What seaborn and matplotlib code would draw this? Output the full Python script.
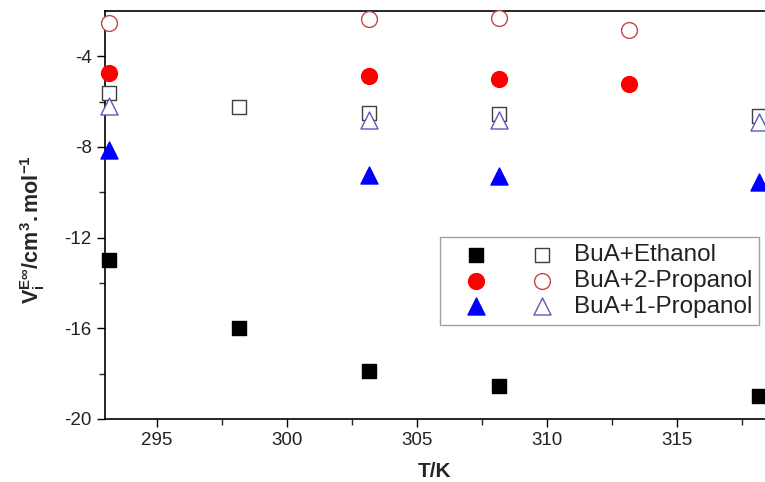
import matplotlib
matplotlib.use("Agg")
import matplotlib.pyplot as plt
import seaborn as sns
import pandas as pd
from matplotlib.legend_handler import HandlerTuple

# Data
T_eth = [293.15, 298.15, 303.15, 308.15, 318.15]
eth_filled = [-13.0, -16.0, -17.9, -18.55, -19.0]
eth_open = [-5.6, -6.25, -6.5, -6.55, -6.65]

T_2p = [293.15, 303.15, 308.15, 313.15]
p2_filled = [-4.75, -4.85, -5.0, -5.2]
p2_open = [-2.55, -2.35, -2.3, -2.85]

T_1p = [293.15, 303.15, 308.15, 318.15]
p1_filled = [-8.15, -9.25, -9.3, -9.55]
p1_open = [-6.2, -6.8, -6.8, -6.9]

labels = ["BuA+Ethanol", "BuA+2-Propanol", "BuA+1-Propanol"]

sns.set_theme(style="ticks")
plt.rcParams['font.family'] = ['Liberation Sans', 'DejaVu Sans']
plt.rcParams['mathtext.fontset'] = 'custom'
plt.rcParams['mathtext.rm'] = 'Liberation Sans'
plt.rcParams['mathtext.bf'] = 'Liberation Sans:bold'
plt.rcParams['mathtext.it'] = 'Liberation Sans:italic'
plt.rcParams['axes.unicode_minus'] = False

fig = plt.figure(figsize=(7.65, 4.82), dpi=100)
ax = fig.add_axes([105/765, 1 - 419/482, 1 - 105/765, (419 - 11)/482])

series = [
    (T_eth, eth_filled, 's', 'black', 'black', 100),
    (T_eth, eth_open, 's', 'white', '#404040', 100),
    (T_2p, p2_filled, 'o', 'red', 'red', 130),
    (T_2p, p2_open, 'o', 'white', '#b84a4a', 130),
    (T_1p, p1_filled, '^', 'blue', 'blue', 150),
    (T_1p, p1_open, '^', 'white', '#5a5ab8', 150),
]
handles = []
for x, y, m, fc, ec, s in series:
    df = pd.DataFrame({"T": x, "V": y})
    sns.scatterplot(data=df, x="T", y="V", marker=m, s=s, color=fc,
                    edgecolor=ec, linewidth=1.0, ax=ax, zorder=3, clip_on=False)
    handles.append(ax.collections[-1])

ax.set_xlim(293.0, 318.4)
ax.set_ylim(-20, -2)
ax.set_xticks([295, 300, 305, 310, 315])
ax.set_xticks([297.5, 302.5, 307.5, 312.5, 317.5], minor=True)
ax.set_yticks([-20, -16, -12, -8, -4])
ax.set_yticks([-18, -14, -10, -6], minor=True)
ax.tick_params(axis='both', which='major', direction='out', length=6, width=1,
               labelsize=13.5, colors='black', labelcolor='#222222')
ax.tick_params(axis='both', which='minor', direction='out', length=4, width=1)
for sp in ['left', 'bottom', 'top']:
    ax.spines[sp].set_linewidth(1.2)
    ax.spines[sp].set_color('black')
ax.spines['right'].set_visible(False)

ax.set_xlabel("T/K", fontsize=15, fontweight='bold', labelpad=9)
ax.set_ylabel(r"$\mathbf{V_i^{E\infty}/cm^{3}.mol^{-1}}$", fontsize=15.5,
              fontweight='bold', labelpad=4)
ax.yaxis.set_label_coords(-0.088, 0.465)

leg_handles = [(handles[0], handles[1]), (handles[2], handles[3]), (handles[4], handles[5])]
leg = fig.legend(leg_handles, labels, handler_map={tuple: HandlerTuple(ndivide=None, pad=0.33)},
                 loc='upper left', bbox_to_anchor=(440/765, 1 - 237/482), handlelength=5.1,
                 handletextpad=0.1, fontsize=17.5, frameon=True, fancybox=False,
                 edgecolor='#888888', borderpad=0.3, labelspacing=0.15,
                 borderaxespad=0, labelcolor='#222222')
leg.get_frame().set_linewidth(1.0)

fig.savefig("out.png", dpi=100)
